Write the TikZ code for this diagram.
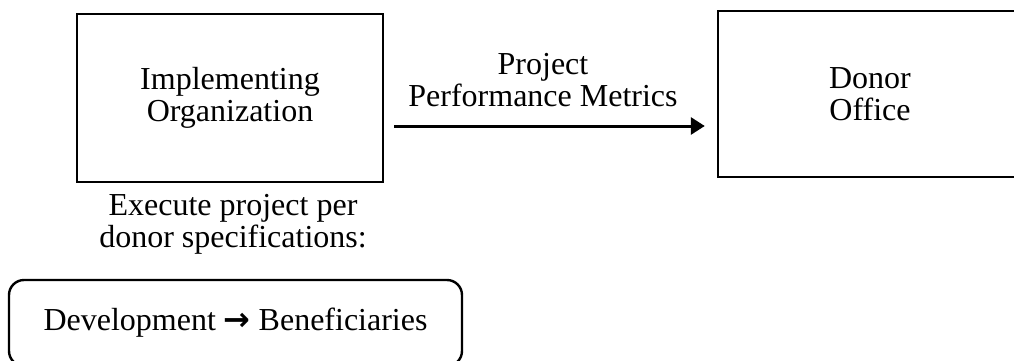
\documentclass[tikz,border=0pt]{standalone}
\usepackage{fontspec}
\setmainfont{Liberation Serif}
\newfontfamily\arrowfont{DejaVu Sans}
\usetikzlibrary{arrows.meta}
\begin{document}
\begin{tikzpicture}[x=0.5pt,y=-0.5pt,
  every node/.style={font=\fontsize{16}{16}\selectfont, align=center},
  box/.style={draw, line width=1.2pt, inner sep=0pt},
  plain/.style={inner sep=0pt},
  flow/.style={line width=1.5pt, -{Triangle[length=7pt,width=8.5pt]}}]
\clip (0,0) rectangle (1014,360);
% the two parties
\node[box, minimum width=153pt, minimum height=84pt] (impl) at (230,98) {Implementing\\Organization};
\node[box, minimum width=152pt, minimum height=83pt] (donor) at (870,94) {Donor\\Office};
% reporting flow
\coordinate (start) at ([xshift=5pt,yshift=-14pt]impl.east);
\draw[flow, shorten >=6pt] (start) -- (start -| donor.west)
  node[midway, above=9pt, plain, xshift=-6.25pt] (metrics) {Project\\Performance Metrics};
% what the implementer does
\node[plain] (spec) at (233,224) {Execute project per\\donor specifications:};
\node[box, rounded corners=7.5pt, minimum width=226.5pt, minimum height=43pt] (dev) at (235.5,323)
  {Development {\arrowfont\bfseries →} Beneficiaries};
\end{tikzpicture}
\end{document}
